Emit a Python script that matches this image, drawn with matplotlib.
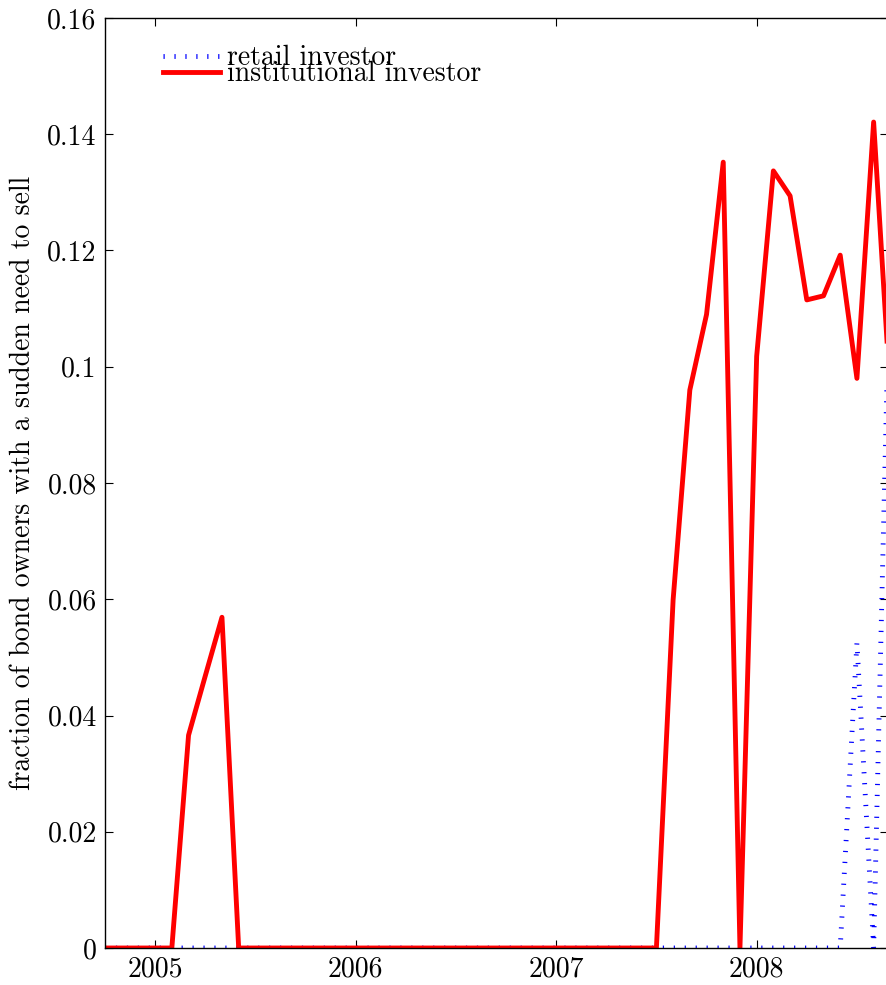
import matplotlib
matplotlib.use("Agg")
import matplotlib.pyplot as plt
import numpy as np

# Monthly data, Oct 2004 .. Sep 2008
start_year = 2004
start_month = 10  # October
institutional = [0, 0, 0, 0, 0, 0.0366, 0.0468, 0.0569, 0] + [0] * 25 + [
    0.0599, 0.096, 0.109, 0.1352, 0.0, 0.1018, 0.1337, 0.1294, 0.1115, 0.1122,
    0.1192, 0.098, 0.1421, 0.095]
retail = [0] * 45 + [0.0525, 0.0, 0.122]
n = len(institutional)
x = [start_year + (start_month - 1 + i) / 12 for i in range(n)]

yticks = [0, 0.02, 0.04, 0.06, 0.08, 0.1, 0.12, 0.14, 0.16]
ytick_labels = ["0", "0.02", "0.04", "0.06", "0.08", "0.1", "0.12", "0.14", "0.16"]
xticks = [2005, 2006, 2007, 2008]
xtick_labels = ["2005", "2006", "2007", "2008"]

plt.rcParams['font.family'] = ['cmr10', 'DejaVu Serif']
plt.rcParams['mathtext.fontset'] = 'cm'
plt.rcParams['axes.formatter.use_mathtext'] = True

W, H = 887, 985
fs = 20
fig = plt.figure(figsize=(W / 100, H / 100), dpi=100)
ax = fig.add_axes([105 / W, (H - 948) / H, 783 / W, 930 / H])

ax.plot(x[:len(retail)], retail, color=(0, 0, 1), lw=3.5,
        linestyle=(0, (0.25, 2.0)), label="retail investor",
        dash_capstyle='butt')
ax.plot(x, institutional, color=(1, 0, 0), lw=3.5, label="institutional investor")

ax.set_xlim(2004.75, 2008.655)
ax.set_ylim(0, 0.16)
ax.set_yticks(yticks)
ax.set_yticklabels(ytick_labels)
ax.set_xticks(xticks)
ax.set_xticklabels(xtick_labels)
ax.tick_params(direction='in', length=6, width=0.8, labelsize=fs,
               top=True, right=True, pad=6)
ax.set_ylabel("fraction of bond owners with a sudden need to sell", fontsize=fs,
              labelpad=8)
for s in ax.spines.values():
    s.set_linewidth(1.0)

leg = ax.legend(loc='upper left', frameon=False, fontsize=fs,
                labelspacing=-0.37, handlelength=2.05, handletextpad=0.27,
                bbox_to_anchor=(0.074, 0.971), borderaxespad=0.0, borderpad=0.0)

fig.savefig("out.png", dpi=100)
